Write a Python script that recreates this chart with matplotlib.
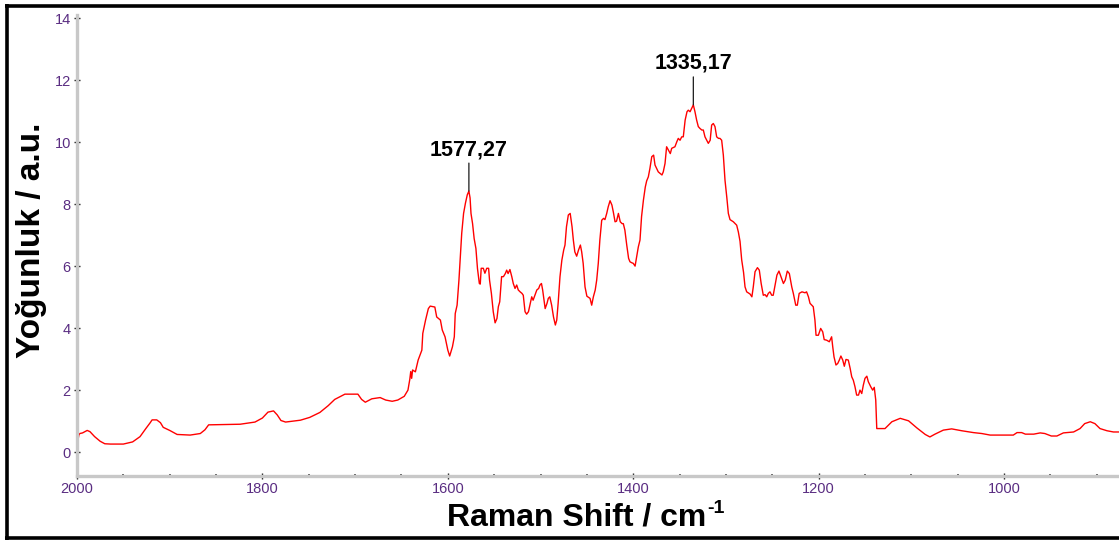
import numpy as np
import matplotlib.pyplot as plt
from matplotlib.lines import Line2D
from matplotlib.ticker import MultipleLocator

plt.rcParams['font.family'] = ['Liberation Sans', 'DejaVu Sans']

# Raman spectrum (cm-1 vs. intensity)
shift = [
    2000, 1999, 1998, 1997, 1994, 1989, 1986, 1981, 1975, 1970, 1964, 1950, 1940,
    1932, 1926, 1921, 1919, 1914, 1910, 1907, 1900, 1892, 1878, 1867, 1862, 1858,
    1824, 1808, 1800, 1794, 1788, 1784, 1780, 1775, 1759, 1749, 1738, 1729, 1722,
    1711, 1697, 1693, 1689, 1682, 1673, 1667, 1660, 1654, 1647, 1643, 1641, 1640,
    1639, 1638, 1635, 1632, 1628, 1627, 1624, 1621, 1619, 1614, 1612, 1608, 1606,
    1603, 1600, 1598, 1595, 1593, 1592, 1590, 1588, 1586, 1585, 1583, 1581, 1579,
    1577.27, 1576, 1575, 1573.3, 1571.6, 1569.7, 1568, 1566, 1565, 1564, 1561.7,
    1560, 1558, 1556, 1555, 1553, 1551, 1549, 1547, 1545.5, 1544, 1542, 1540, 1538,
    1536.5, 1535, 1533, 1531, 1529.4, 1527.5, 1525.7, 1524, 1522, 1520, 1518.6,
    1516.7, 1515, 1513, 1511, 1509.5, 1508, 1506, 1504, 1502, 1500.6, 1499, 1497.7,
    1496, 1495, 1493, 1491.6, 1490, 1488, 1486, 1484, 1482.5, 1481, 1479, 1477,
    1475, 1473.6, 1472, 1470, 1468, 1466, 1464.6, 1463, 1461, 1459, 1457, 1455.6,
    1454, 1452, 1450, 1448.5, 1446.6, 1444.8, 1443, 1441, 1439.4, 1437.7, 1436,
    1434, 1432, 1430.5, 1428.6, 1427, 1425, 1423, 1421.5, 1419.6, 1418, 1416, 1414,
    1412, 1410.7, 1409, 1407, 1405, 1403.5, 1401.7, 1400, 1398, 1396, 1394.5,
    1392.7, 1391, 1389, 1387, 1385.5, 1383.7, 1382, 1380, 1378, 1376.5, 1373, 1369,
    1367.6, 1365.7, 1364, 1362, 1360, 1358.5, 1355, 1353, 1351.4, 1349.5, 1347.7,
    1346, 1344, 1342, 1340.6, 1338.7, 1335.17, 1333.4, 1331.6, 1329.8, 1328, 1326,
    1324.4, 1322.6, 1320.7, 1319, 1317, 1315.4, 1313.6, 1311.8, 1310, 1308, 1306.4,
    1304.6, 1302.8, 1301, 1299, 1297.4, 1295.6, 1292, 1288.4, 1286.6, 1284.8, 1283,
    1281, 1279.4, 1277.6, 1274, 1272, 1270.5, 1268.6, 1266, 1264, 1262, 1259.7,
    1257.8, 1256, 1254.3, 1252.5, 1250.6, 1249, 1247, 1245, 1242.8, 1240.6, 1238,
    1236, 1233.8, 1231.6, 1229, 1227.3, 1224.7, 1223, 1221, 1218, 1214.7, 1213,
    1211, 1209.3, 1205.8, 1204, 1202.8, 1200.3, 1197.8, 1195.6, 1194, 1191.3,
    1188.5, 1186, 1184.8, 1183.4, 1181.3, 1179.4, 1177.7, 1176, 1174, 1172.3,
    1170.5, 1168, 1166, 1164.3, 1162.6, 1160.8, 1159, 1157, 1155.4, 1153.5, 1151.8,
    1150, 1148, 1146.4, 1143.8, 1141.7, 1140, 1138.4, 1137.3, 1128.4, 1121, 1112,
    1103, 1094, 1085, 1080, 1074.5, 1065.5, 1056.5, 1045.7, 1033, 1024, 1015, 990,
    986, 981, 977, 968, 961, 956, 949, 943, 936, 925, 918, 913, 907, 902, 896.5,
    889, 882, 876,
]
intensity = [
    0.45, 0.38, 0.55, 0.6, 0.62, 0.7, 0.66, 0.5, 0.35, 0.27, 0.26, 0.26, 0.33,
    0.5, 0.75, 0.95, 1.04, 1.04, 0.95, 0.8, 0.7, 0.57, 0.55, 0.6, 0.72, 0.88,
    0.9, 0.97, 1.1, 1.29, 1.33, 1.2, 1.02, 0.97, 1.03, 1.12, 1.28, 1.5, 1.7,
    1.87, 1.87, 1.7, 1.61, 1.72, 1.76, 1.68, 1.64, 1.68, 1.8, 2.0, 2.35, 2.6,
    2.38, 2.65, 2.59, 2.97, 3.29, 3.83, 4.26, 4.63, 4.71, 4.68, 4.36, 4.26, 3.94,
    3.72, 3.29, 3.1, 3.4, 3.72, 4.47, 4.74, 5.55, 6.52, 7.06, 7.7, 8.03, 8.3,
    8.42, 8.2, 7.7, 7.37, 6.89, 6.57, 5.92, 5.44, 5.42, 5.93, 5.93,
    5.77, 5.93, 5.93, 5.55, 5.12, 4.53, 4.17, 4.31, 4.69, 4.85, 5.66, 5.66, 5.76,
    5.87, 5.76, 5.89, 5.66, 5.44, 5.28, 5.39, 5.23, 5.17, 5.12, 5.06,
    4.53, 4.45, 4.53, 4.8, 5.01, 4.9, 5.06, 5.23, 5.28, 5.39, 5.44, 5.23,
    4.85, 4.63, 4.8, 4.96, 5.01, 4.74, 4.36, 4.1, 4.26, 4.8, 5.66, 6.19,
    6.52, 6.68, 7.27, 7.65, 7.7, 7.27, 6.84, 6.46, 6.32, 6.52, 6.68, 6.46,
    6.09, 5.33, 5.03, 5.0, 4.96, 4.74, 5.01, 5.23, 5.55, 6.09, 6.84,
    7.48, 7.54, 7.5, 7.7, 7.91, 8.11, 7.97, 7.75, 7.43, 7.45, 7.7, 7.43,
    7.37, 7.37, 7.16, 6.68, 6.25, 6.14, 6.11, 6.09, 6.0, 6.35, 6.62,
    6.84, 7.6, 8.13, 8.55, 8.75, 8.88, 9.15, 9.53, 9.58, 9.26, 9.04, 8.94,
    9.04, 9.31, 9.85, 9.74, 9.63, 9.8, 9.85, 10.01, 10.12, 10.06, 10.17,
    10.17, 10.71, 10.98, 11.03, 10.98, 11.2, 10.98, 10.71, 10.5, 10.44, 10.39,
    10.39, 10.17, 10.06, 9.96, 10.06, 10.55, 10.6, 10.5, 10.17, 10.12, 10.12,
    10.06, 9.58, 8.77, 8.2, 7.7, 7.5, 7.43, 7.32, 7.1, 6.8, 6.2,
    5.8, 5.33, 5.17, 5.1, 5.01, 5.33, 5.82, 5.95, 5.87, 5.44, 5.06,
    5.08, 5.01, 5.12, 5.17, 5.06, 5.06, 5.39, 5.71, 5.84, 5.66, 5.44,
    5.55, 5.84, 5.76, 5.33, 5.12, 4.74, 4.74, 5.12, 5.17, 5.14, 5.17,
    5.01, 4.8, 4.69, 4.26, 3.77, 3.77, 3.99, 3.88, 3.63, 3.61,
    3.56, 3.72, 3.4, 3.07, 2.81, 2.86, 2.97, 3.1, 2.97, 2.77,
    2.99, 2.97, 2.7, 2.43, 2.32, 2.11, 1.84, 1.84, 2.0, 1.89, 2.16,
    2.38, 2.45, 2.27, 2.11, 2.0, 2.09, 1.68, 0.76, 0.76, 0.98, 1.09,
    1.01, 0.78, 0.57, 0.49, 0.58, 0.71, 0.75, 0.69, 0.63, 0.6, 0.55, 0.55,
    0.63, 0.63, 0.58, 0.58, 0.62, 0.6, 0.52, 0.52, 0.62, 0.65, 0.76, 0.92, 0.98, 0.92, 0.76,
    0.69, 0.65, 0.65,
]

peak_shift = [1577.27, 1335.17]
peak_labels = ['1577,27', '1335,17']

W, H = 1119, 541
fig = plt.figure(figsize=(W / 100, H / 100), dpi=100)
fig.patch.set_facecolor('white')
ax = fig.add_axes([77 / W, 65 / H, 1 - 77 / W, 461 / H])

ax.plot(shift, intensity, color='#ff0000', lw=1.0)

ax.set_xlim(2000, 876)
ax.set_ylim(-0.77, 14.1)
ax.xaxis.set_major_locator(MultipleLocator(200))
ax.xaxis.set_minor_locator(MultipleLocator(50))
ax.yaxis.set_major_locator(MultipleLocator(2))
ax.yaxis.set_minor_locator(MultipleLocator(0.5))

for s in ['top', 'right']:
    ax.spines[s].set_visible(False)
for s in ['left', 'bottom']:
    ax.spines[s].set_color('#c8c8c8')
    ax.spines[s].set_linewidth(2.4)

ax.tick_params(which='major', direction='inout', length=5, width=1.0,
               color='#222222', labelsize=10.5, labelcolor='#5a2d82', pad=2)
ax.tick_params(which='minor', direction='in', length=1.5, width=1.2,
               color='#444444')

# peak markers
xs = np.array(shift)[::-1]
ys = np.array(intensity)[::-1]
for px, lbl in zip(peak_shift, peak_labels):
    py = np.interp(px, xs, ys)
    ax.annotate('', xy=(px, py), xytext=(0, 28), textcoords='offset pixels',
                arrowprops=dict(arrowstyle='-', color='#1a1a1a', lw=0.9,
                                shrinkA=0, shrinkB=0))
    ax.annotate(lbl, xy=(px, py), xytext=(0, 36), textcoords='offset pixels',
                ha='center', va='baseline', fontsize=15.5, fontweight='bold')

# axis titles
fig.text(32 / W, 1 - 240 / H, 'Yoğunluk / a.u.', rotation=90, ha='center',
         va='center', fontsize=24, fontweight='bold')
fig.text(706 / W, 1 - 526 / H, 'Raman Shift / cm', ha='right', va='baseline',
         fontsize=23, fontweight='bold')
fig.text(707 / W, 1 - 513 / H, '-1', ha='left', va='baseline',
         fontsize=14, fontweight='bold')

# outer frame
kw = dict(transform=fig.transFigure, color='black', lw=2.6, solid_capstyle='butt')
fig.add_artist(Line2D([6.5 / W, 6.5 / W], [1 - 539.5 / H, 1 - 4 / H], **kw))
fig.add_artist(Line2D([5 / W, 1], [1 - 5.5 / H, 1 - 5.5 / H], **kw))
fig.add_artist(Line2D([5 / W, 1], [1 - 538 / H, 1 - 538 / H], **kw))

fig.savefig('out.png', dpi=100)
